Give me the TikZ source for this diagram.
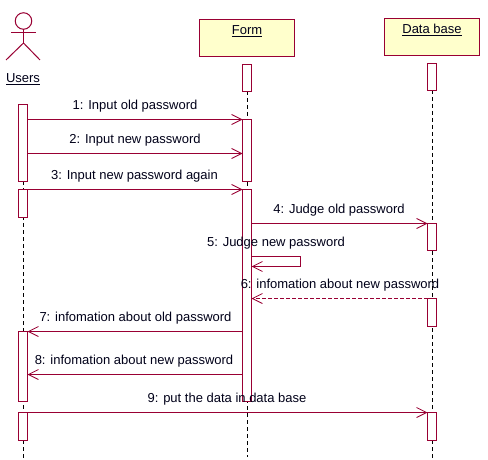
\documentclass[tikz,border=0pt]{standalone}
\usepackage{fontspec}
\setmainfont{Liberation Sans}
\usetikzlibrary{arrows.meta}
\definecolor{umlred}{HTML}{990033}
\definecolor{umlfill}{HTML}{FFFFCC}
\tikzset{
  obj/.style={draw=umlred,fill=umlfill,line width=1pt,minimum width=95pt,minimum height=37pt,inner sep=0pt,outer sep=0pt},
  bar/.style={draw=umlred,fill=white,line width=1pt,minimum width=9pt,inner sep=0pt,outer sep=0pt},
  life/.style={draw=black,line width=1pt,dash pattern=on 4pt off 3pt},
  msg/.style={draw=umlred,line width=1pt,-{Straight Barb[length=10pt,width=10pt,line width=.8pt]}},
  ret/.style={msg,dash pattern=on 4pt off 2pt},
  lbl/.style={font=\fontsize{13}{15}\selectfont,inner sep=0pt,text=black!90!blue},
  stick/.style={draw=umlred,line width=1pt}
}
\newcommand{\ul}[1]{\underline{#1}}
\begin{document}
\begin{tikzpicture}[x=1pt,y=-1pt]
\useasboundingbox[fill=white] (0,0) rectangle (488,460);
% end points of the lifelines
\coordinate (ue) at (23.5,460);
\coordinate (fe) at (247.5,457);
\coordinate (de) at (432.5,460);
\coordinate (us) at (23.5,181);
\coordinate (fs) at (247.5,91);
\coordinate (ds) at (432.5,90);
\draw[life] (us) -- (ue);
\draw[life] (fs) -- (fe);
\draw[life] (ds) -- (de);
% activation bars
\node[bar,anchor=north,minimum height=27pt] (fh) at (247,64.5) {};
\node[bar,anchor=north,minimum height=62pt] (f2) at (247,119.5) {};
\node[bar,anchor=north,minimum height=212pt] (f3) at (247,189.5) {};
\node[bar,anchor=north,minimum height=77pt] (u1) at (23,104.5) {};
\node[bar,anchor=north,minimum height=28pt] (u2) at (23,189.5) {};
\node[bar,anchor=north,minimum height=70pt] (u3) at (23,331.5) {};
\node[bar,anchor=north,minimum height=28pt] (u4) at (23,412.5) {};
\node[bar,anchor=north,minimum height=27pt] (dh) at (432,63.5) {};
\node[bar,anchor=north,minimum height=27pt] (d1) at (432,223.5) {};
\node[bar,anchor=north,minimum height=28pt] (d2) at (432,298.5) {};
\node[bar,anchor=north,minimum height=28pt] (d3) at (432,412.5) {};
% objects
\node[obj] (form) at (247,38) {};
\node[obj] (db) at (432,37) {};
\node[lbl,anchor=base] (formt) at (247,35) {\ul{Form}};
\node[lbl,anchor=base] (dbt) at (432,34) {\ul{Data base}};
% actor
\node[circle,draw=umlred,line width=1pt,minimum size=16.5pt,inner sep=0pt,outer sep=0pt] (head) at (23.5,21) {};
\coordinate (arml) at (11,32.5);
\coordinate (armr) at (36,32.5);
\coordinate (hip) at (23.5,43);
\coordinate (legl) at (6,60);
\coordinate (legr) at (40,60);
\draw[stick] (arml) -- (armr);
\draw[stick] (head.south) -- (hip);
\draw[stick] (legl) -- (hip) -- (legr);
\node[lbl,anchor=base] (users) at (23,83) {\ul{Users}};
% message levels
\coordinate (m2) at (0,153.5);
\coordinate (m5a) at (0,256.5);
\coordinate (m5b) at (0,266.5);
\coordinate (m8) at (0,374.5);
\coordinate (sx) at (300.5,0);
% messages
\draw[msg] (u1.east |- f2.north) -- (f2.north west);
\draw[msg] (u1.east |- m2) -- (f2.west |- m2);
\draw[msg] (u2.north) -- (f3.north west);
\draw[msg] (f3.east |- d1.north) -- (d1.north west);
\draw[msg] (f3.east |- m5a) -- (sx |- m5a) -- (sx |- m5b) -- (f3.east |- m5b);
\draw[ret] (d2.north west) -- (f3.east |- d2.north);
\draw[msg] (f3.west |- u3.north) -- (u3.north east);
\draw[msg] (f3.west |- m8) -- (u3.east |- m8);
\draw[msg] (u4.north) -- (d3.north west);
% labels
\node[lbl] (l1) at (135,106) {1: Input old password};
\node[lbl] (l2) at (135,140) {2: Input new password};
\node[lbl] (l3) at (134.5,176) {3: Input new password again};
\node[lbl] (l4) at (339,210.5) {4: Judge old password};
\node[lbl] (l5) at (276,243) {5: Judge new password};
\node[lbl] (l6) at (340,285.5) {6: infomation about new password};
\node[lbl] (l7) at (135.5,318.5) {7: infomation about old password};
\node[lbl] (l8) at (134,361.5) {8: infomation about new password};
\node[lbl] (l9) at (227,399) {9: put the data in data base};
\end{tikzpicture}
\end{document}
